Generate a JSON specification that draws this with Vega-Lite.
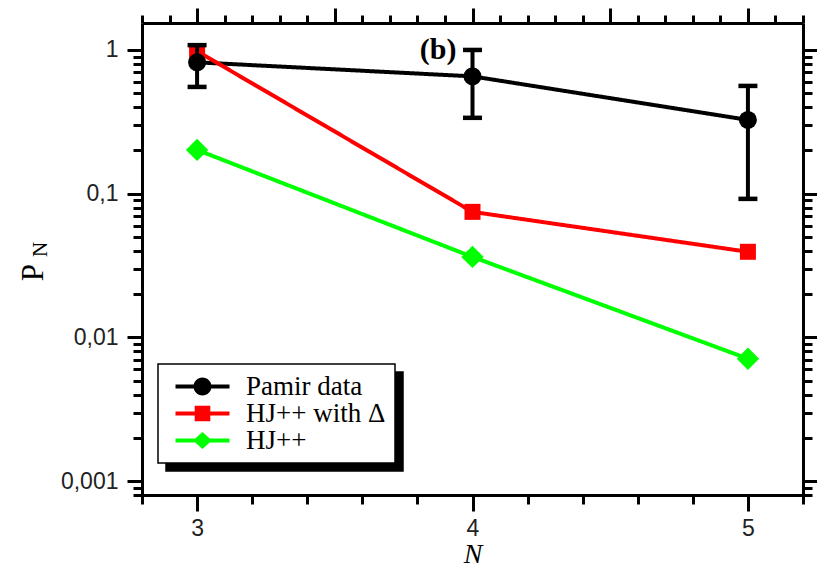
{
  "$schema": "https://vega.github.io/schema/vega-lite/v6.json",
  "width": 661,
  "height": 472,
  "autosize": "none",
  "padding": {"left": 142, "top": 23, "right": 14, "bottom": 70},
  "datasets": {
    "series": [
      {"series": "Pamir data", "N": 3, "P": 0.82},
      {"series": "Pamir data", "N": 4, "P": 0.655},
      {"series": "Pamir data", "N": 5, "P": 0.326},
      {"series": "HJ++ with Δ", "N": 3, "P": 0.98},
      {"series": "HJ++ with Δ", "N": 4, "P": 0.0747},
      {"series": "HJ++ with Δ", "N": 5, "P": 0.0394},
      {"series": "HJ++", "N": 3, "P": 0.2016},
      {"series": "HJ++", "N": 4, "P": 0.0363},
      {"series": "HJ++", "N": 5, "P": 0.0071}
    ],
    "err": [
      {"N": 3, "lo": 0.553, "hi": 1.08},
      {"N": 4, "lo": 0.337, "hi": 1.0},
      {"N": 5, "lo": 0.092, "hi": 0.562}
    ]
  },
  "config": {
    "view": {"stroke": null},
    "axis": {
      "domainWidth": 3,
      "domainColor": "black",
      "tickColor": "black",
      "tickWidth": 3,
      "grid": false,
      "labelFont": "Liberation Sans",
      "labelFontSize": 23,
      "labelColor": "#222",
      "labelOverlap": false,
      "labelFlush": false,
      "labelBound": false
    }
  },
  "layer": [
    {
      "layer": [
        {
          "data": {"name": "series"},
          "mark": {"type": "line", "strokeWidth": 4},
          "encoding": {
            "x": {
              "field": "N", "type": "quantitative",
              "scale": {"domain": [2.8, 5.2], "nice": false, "zero": false},
              "axis": {
                "orient": "bottom",
                "values": [2.8,2.9,3,3.1,3.2,3.3,3.4,3.5,3.6,3.7,3.8,3.9,4,4.1,4.2,4.3,4.4,4.5,4.6,4.7,4.8,4.9,5,5.1,5.2],
                "tickSize": {"condition": {"test": "abs(datum.value*2 - round(datum.value*2)) < 0.01", "value": 16}, "value": 9},
                "labelExpr": "abs(datum.value - round(datum.value)) < 0.001 ? format(datum.value, 'd') : ''",
                "labelPadding": 6,
                "title": "N",
                "titleFont": "Liberation Serif",
                "titleFontStyle": "italic",
                "titleFontWeight": "normal",
                "titleFontSize": 28,
                "titleColor": "black",
                "titleBaseline": "alphabetic",
                "titleY": 67
              }
            },
            "y": {
              "field": "P", "type": "quantitative",
              "scale": {"type": "log", "domain": [0.0008, 1.54], "nice": false},
              "axis": {
                "orient": "left",
                "values": [0.0008,0.0009,0.001,0.002,0.003,0.004,0.005,0.006,0.007,0.008,0.009,0.01,0.02,0.03,0.04,0.05,0.06,0.07,0.08,0.09,0.1,0.2,0.3,0.4,0.5,0.6,0.7,0.8,0.9,1],
                "tickSize": {"condition": {"test": "abs(log(datum.value)/LN10 - round(log(datum.value)/LN10)) < 0.001", "value": 15}, "value": 9},
                "labelExpr": "datum.value == 1 ? '1' : datum.value == 0.1 ? '0,1' : datum.value == 0.01 ? '0,01' : datum.value == 0.001 ? '0,001' : ''",
                "labelPadding": 9,
                "title": "P",
                "titleFont": "Liberation Serif",
                "titleFontWeight": "normal",
                "titleFontSize": 31,
                "titleColor": "black",
                "titleAngle": 270,
                "titleBaseline": "alphabetic",
                "titleAlign": "center",
                "titleX": -100,
                "titleY": 249
              }
            },
            "color": {
              "field": "series", "type": "nominal",
              "scale": {"domain": ["Pamir data", "HJ++ with Δ", "HJ++"], "range": ["black", "#ff0000", "#00ff00"]},
              "legend": {
                "orient": "none",
                "legendX": 16,
                "legendY": 341,
                "title": null,
                "zindex": 2,
                "fillColor": "white",
                "strokeColor": "black",
                "padding": 9,
                "rowPadding": -2,
                "labelFont": "Liberation Serif",
                "labelFontSize": 27,
                "labelColor": "black",
                "labelLimit": 400,
                "labelOffset": 30,
                "symbolSize": 400,
                "symbolOffset": 22,
                "symbolStrokeWidth": 0,
                "encode": {
                  "legend": {"update": {"strokeWidth": {"value": 1.5}}},
                  "symbols": {
                    "update": {
                      "shape": {"signal": "datum.value === 'Pamir data' ? 'M-2.7,-0.2H2.7V0.2H-2.7ZM0.9,0A0.9,0.9,0,1,1,-0.9,0A0.9,0.9,0,1,1,0.9,0Z' : datum.value === 'HJ++' ? 'M-2.7,-0.2H2.7V0.2H-2.7ZM-0.95,0L0,-0.85L0.95,0L0,0.85Z' : 'M-2.7,-0.2H2.7V0.2H-2.7ZM-0.78,-0.78H0.78V0.78H-0.78Z'"},
                      "fill": {"signal": "datum.value === 'Pamir data' ? 'black' : datum.value === 'HJ++' ? '#00ff00' : '#ff0000'"},
                      "strokeWidth": {"value": 0},
                      "opacity": {"value": 1}
                    }
                  }
                }
              }
            },
            "strokeDash": {
              "field": "series", "type": "nominal",
              "scale": {"range": [[1, 0], [1, 0], [1, 0]]},
              "legend": {
                "orient": "none",
                "legendX": 24,
                "legendY": 349,
                "title": null,
                "zindex": 1,
                "fillColor": "black",
                "strokeColor": "black",
                "padding": 9,
                "rowPadding": -2,
                "labelFont": "Liberation Serif",
                "labelFontSize": 27,
                "labelColor": "black",
                "labelOpacity": 0,
                "labelLimit": 400,
                "labelOffset": 30,
                "symbolSize": 400,
                "symbolOffset": 22,
                "symbolStrokeWidth": 0,
                "symbolOpacity": 0,
                "encode": {
                  "legend": {"update": {"strokeWidth": {"value": 1.5}}},
                  "symbols": {
                    "update": {
                      "shape": {"signal": "datum.value === 'Pamir data' ? 'M-2.7,-0.2H2.7V0.2H-2.7ZM0.9,0A0.9,0.9,0,1,1,-0.9,0A0.9,0.9,0,1,1,0.9,0Z' : datum.value === 'HJ++' ? 'M-2.7,-0.2H2.7V0.2H-2.7ZM-0.95,0L0,-0.85L0.95,0L0,0.85Z' : 'M-2.7,-0.2H2.7V0.2H-2.7ZM-0.78,-0.78H0.78V0.78H-0.78Z'"},
                      "opacity": {"value": 0}
                    }
                  }
                }
              }
            }
          }
        },
        {
          "data": {"name": "series"},
          "transform": [{"filter": "datum.series === 'HJ++ with Δ'"}],
          "mark": {"type": "point", "shape": "square", "filled": true, "opacity": 1, "size": 256, "color": "#ff0000"},
          "encoding": {
            "x": {"field": "N", "type": "quantitative"},
            "y": {"field": "P", "type": "quantitative"}
          }
        },
        {
          "data": {"name": "series"},
          "transform": [{"filter": "datum.series === 'HJ++'"}],
          "mark": {"type": "point", "shape": "diamond", "filled": true, "opacity": 1, "size": 500, "color": "#00ff00"},
          "encoding": {
            "x": {"field": "N", "type": "quantitative"},
            "y": {"field": "P", "type": "quantitative"}
          }
        },
        {
          "data": {"name": "series"},
          "transform": [{"filter": "datum.series === 'Pamir data'"}],
          "mark": {"type": "point", "shape": "circle", "filled": true, "opacity": 1, "size": 324, "color": "black"},
          "encoding": {
            "x": {"field": "N", "type": "quantitative"},
            "y": {"field": "P", "type": "quantitative"}
          }
        },
        {
          "data": {"name": "err"},
          "mark": {"type": "rule", "strokeWidth": 4, "color": "black"},
          "encoding": {
            "x": {"field": "N", "type": "quantitative"},
            "y": {"field": "lo", "type": "quantitative"},
            "y2": {"field": "hi"}
          }
        },
        {
          "data": {"name": "err"},
          "mark": {"type": "tick", "orient": "horizontal", "size": 19, "thickness": 4.5, "color": "black", "opacity": 1},
          "encoding": {
            "x": {"field": "N", "type": "quantitative"},
            "y": {"field": "lo", "type": "quantitative"}
          }
        },
        {
          "data": {"name": "err"},
          "mark": {"type": "tick", "orient": "horizontal", "size": 19, "thickness": 4.5, "color": "black", "opacity": 1},
          "encoding": {
            "x": {"field": "N", "type": "quantitative"},
            "y": {"field": "hi", "type": "quantitative"}
          }
        },
        {
          "data": {"values": [{"N": 3.875, "P": 1.0, "label": "(b)"}]},
          "mark": {"type": "text", "font": "Liberation Serif", "fontSize": 30, "fontWeight": "bold", "color": "black", "align": "center", "baseline": "middle"},
          "encoding": {
            "x": {"field": "N", "type": "quantitative"},
            "y": {"field": "P", "type": "quantitative"},
            "text": {"field": "label"}
          }
        }
      ]
    },
    {
      "data": {"name": "series"},
      "mark": {"type": "point", "opacity": 0},
      "encoding": {
        "x": {
          "field": "N", "type": "quantitative",
          "scale": {"domain": [2.8, 5.2], "nice": false, "zero": false},
          "axis": {
            "orient": "top",
            "values": [2.8,2.9,3,3.1,3.2,3.3,3.4,3.5,3.6,3.7,3.8,3.9,4,4.1,4.2,4.3,4.4,4.5,4.6,4.7,4.8,4.9,5,5.1,5.2],
            "tickSize": {"condition": {"test": "abs(datum.value*2 - round(datum.value*2)) < 0.01", "value": 15}, "value": 8},
            "labels": false,
            "title": null
          }
        },
        "y": {
          "field": "P", "type": "quantitative",
          "scale": {"type": "log", "domain": [0.0008, 1.54], "nice": false},
          "axis": {
            "orient": "right",
            "values": [0.0008,0.0009,0.001,0.002,0.003,0.004,0.005,0.006,0.007,0.008,0.009,0.01,0.02,0.03,0.04,0.05,0.06,0.07,0.08,0.09,0.1,0.2,0.3,0.4,0.5,0.6,0.7,0.8,0.9,1],
            "tickSize": {"condition": {"test": "abs(log(datum.value)/LN10 - round(log(datum.value)/LN10)) < 0.001", "value": 15}, "value": 9},
            "labels": false,
            "title": "N",
            "titleFont": "Liberation Serif",
            "titleFontWeight": "normal",
            "titleFontSize": 21,
            "titleColor": "black",
            "titleAngle": 270,
            "titleBaseline": "alphabetic",
            "titleAlign": "center",
            "titleX": -757,
            "titleY": 226
          }
        }
      }
    }
  ],
  "resolve": {"scale": {"x": "independent", "y": "independent"}}
}
